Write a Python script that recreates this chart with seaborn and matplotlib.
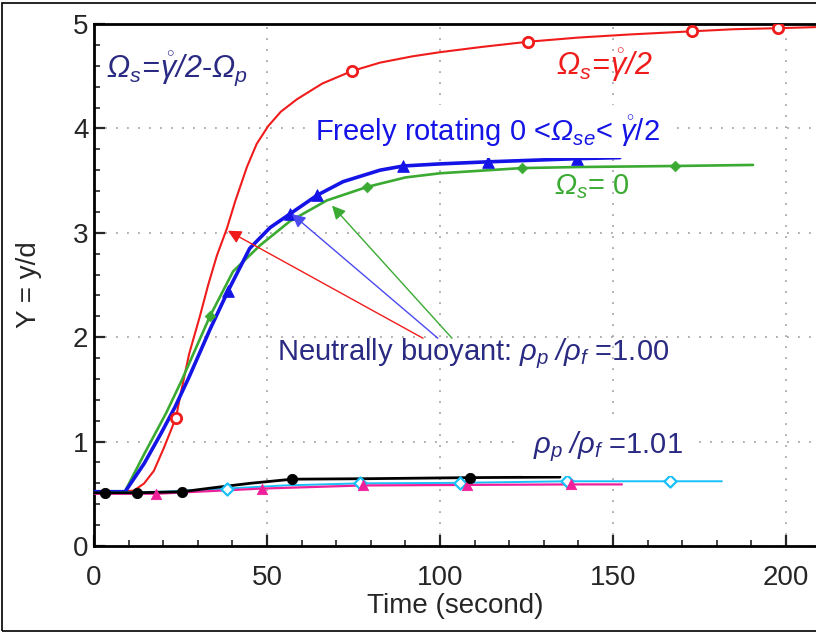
import numpy as np
import pandas as pd
import seaborn as sns
import matplotlib
matplotlib.use("Agg")
import matplotlib.pyplot as plt
from matplotlib.patches import Rectangle
from matplotlib.ticker import MultipleLocator

# ---- trajectories: time (s) vs. Y = y/d ----
# neutrally buoyant, Omega_s = gamma/2
red_t = [0, 6, 11.5, 14.5, 17.3, 20.2, 23.7, 25.0, 27.5, 30.6, 33.0, 35.5, 38.4, 40.8,
         44.2, 47.0, 50.3, 54.0, 58.7, 66.0, 74.6, 82.7, 92.0, 100.0, 112.0, 125.4,
         140.0, 155.0, 172.8, 185.0, 197.7, 208.5]
red_y = [0.52, 0.52, 0.53, 0.60, 0.72, 0.94, 1.23, 1.45, 1.84, 2.20, 2.50, 2.78, 3.04, 3.30,
         3.63, 3.85, 4.02, 4.16, 4.28, 4.43, 4.55, 4.63, 4.69, 4.73, 4.78, 4.83,
         4.87, 4.90, 4.93, 4.95, 4.96, 4.97]
red_mk_t = [23.7, 74.6, 125.4, 172.8, 197.7]
red_mk_y = [1.23, 4.55, 4.83, 4.93, 4.96]

# neutrally buoyant, freely rotating
blue_t = [0, 9.0, 14.5, 19.4, 23.4, 27.5, 33.6, 38.7, 45.0, 50.9, 56.6, 64.5, 72.0,
          82.7, 89.4, 100.0, 114.0, 139.6, 152.0]
blue_y = [0.52, 0.52, 0.79, 1.08, 1.33, 1.62, 2.08, 2.44, 2.85, 3.05, 3.18, 3.36, 3.49,
          3.60, 3.64, 3.66, 3.68, 3.71, 3.72]
blue_mk_t = [38.7, 56.6, 64.5, 89.4, 114.0, 139.6]
blue_mk_y = [2.44, 3.18, 3.36, 3.64, 3.68, 3.71]

# neutrally buoyant, Omega_s = 0
green_t = [0, 8.9, 14.5, 20.8, 25.4, 33.5, 40.2, 48.0, 56.6, 67.3, 79.0, 90.0, 100.0,
           123.7, 140.0, 168.0, 190.5]
green_y = [0.52, 0.52, 0.88, 1.27, 1.59, 2.20, 2.63, 2.88, 3.11, 3.31, 3.44, 3.53, 3.57,
           3.62, 3.63, 3.64, 3.65]
green_mk_t = [33.5, 79.0, 123.7, 168.0]
green_mk_y = [2.20, 3.44, 3.62, 3.64]

# rho_p / rho_f = 1.01
black_t = [0, 3.2, 12.4, 25.5, 35.0, 45.0, 57.3, 80.0, 108.7, 134.7]
black_y = [0.51, 0.51, 0.51, 0.52, 0.56, 0.60, 0.64, 0.645, 0.655, 0.66]
black_mk_t = [3.2, 12.4, 25.5, 57.3, 108.7]
black_mk_y = [0.51, 0.51, 0.52, 0.64, 0.655]

magenta_t = [0, 18.0, 30.0, 48.5, 77.8, 107.8, 138.0, 152.6]
magenta_y = [0.50, 0.50, 0.52, 0.55, 0.58, 0.585, 0.59, 0.59]
magenta_mk_t = [18.0, 48.5, 77.8, 107.8, 138.0]
magenta_mk_y = [0.50, 0.55, 0.58, 0.585, 0.59]

cyan_t = [0, 20.0, 38.4, 55.0, 76.9, 105.8, 136.7, 166.5, 181.5]
cyan_y = [0.51, 0.52, 0.55, 0.58, 0.60, 0.605, 0.62, 0.62, 0.62]
cyan_mk_t = [38.4, 76.9, 105.8, 136.7, 166.5]
cyan_mk_y = [0.55, 0.60, 0.605, 0.62, 0.62]

x_ticks = [0, 50, 100, 150, 200]
y_ticks = [0, 1, 2, 3, 4, 5]

# ---- style ----
sns.set_theme(style="ticks")
plt.rcParams["font.family"] = ["Liberation Sans", "DejaVu Sans"]
plt.rcParams["mathtext.fontset"] = "custom"
plt.rcParams["mathtext.rm"] = "Liberation Sans:italic"
plt.rcParams["mathtext.it"] = "Liberation Sans:italic"
plt.rcParams["mathtext.sf"] = "Liberation Sans"

RED = "#f01c1c"
BLUE = "#1414e6"
GREEN = "#3aaa32"
MAGENTA = "#f0209a"
CYAN = "#18c0f8"
NAVY = "#2a2a82"

fig = plt.figure(figsize=(8.16, 6.33), dpi=100)
ax = fig.add_axes([94 / 816, 1 - 546 / 633, 722 / 816, 522 / 633])

# lines
curves = [
    (red_t, red_y, RED, 1.5),
    (green_t, green_y, GREEN, 1.9),
    (blue_t, blue_y, BLUE, 2.6),
    (cyan_t, cyan_y, CYAN, 1.4),
    (magenta_t, magenta_y, MAGENTA, 1.6),
    (black_t, black_y, "black", 2.0),
]
for t, y, c, lw in curves:
    sns.lineplot(x=t, y=y, ax=ax, color=c, lw=lw, sort=False, estimator=None, zorder=3)

# markers
sns.scatterplot(x=red_mk_t, y=red_mk_y, ax=ax, marker="o", s=55, facecolor="white",
                edgecolor=RED, linewidth=2.0, zorder=4)
sns.scatterplot(x=green_mk_t, y=green_mk_y, ax=ax, marker="D", s=30, color=GREEN,
                edgecolor=GREEN, zorder=4)
sns.scatterplot(x=blue_mk_t, y=blue_mk_y, ax=ax, marker="^", s=70, color=BLUE,
                edgecolor=BLUE, zorder=4)
sns.scatterplot(x=cyan_mk_t, y=cyan_mk_y, ax=ax, marker="D", s=38, facecolor="white",
                edgecolor=CYAN, linewidth=1.6, zorder=4)
sns.scatterplot(x=magenta_mk_t, y=magenta_mk_y, ax=ax, marker="^", s=55, color=MAGENTA,
                edgecolor=MAGENTA, zorder=4)
sns.scatterplot(x=black_mk_t, y=black_mk_y, ax=ax, marker="o", s=55, color="black",
                edgecolor="black", zorder=5)

# axes
ax.set_xlim(0, 208.7)
ax.set_ylim(0, 5)
ax.set_xticks(x_ticks)
ax.set_yticks(y_ticks)
ax.xaxis.set_minor_locator(MultipleLocator(10))
ax.yaxis.set_minor_locator(MultipleLocator(0.2))
ax.tick_params(which="major", direction="in", length=8, width=1.6, labelsize=20,
               top=False, right=False)
ax.tick_params(axis="x", which="major", pad=14)
ax.tick_params(axis="y", which="major", pad=4)
ax.tick_params(which="minor", direction="in", length=4, width=1.2, top=False, right=False)
ax.grid(True, which="major", color="#9a9a9a", linestyle=(0, (1.2, 6)), linewidth=1.1)
for side in ("left", "bottom", "top"):
    ax.spines[side].set_linewidth(2.0)
    ax.spines[side].set_color("black")
ax.spines["right"].set_visible(False)
ax.set_xlabel("Time (second)", fontsize=20, labelpad=1)
ax.set_ylabel("Y = y/d", fontsize=20, labelpad=22)

# annotations
ax.text(3.5, 4.57, r"$\Omega_s\!=\!\mathring{\gamma}/2$-$\Omega_p$", color=NAVY,
        fontsize=22, va="center", ha="left", zorder=6)
ax.text(133.5, 4.60, r"$\Omega_s\!=\!\mathring{\gamma}/2$", color=RED,
        fontsize=22, va="center", ha="left", zorder=6)
ax.text(64.0, 3.97, r"Freely rotating 0 <$\Omega_{se}$< $\mathring{\gamma}$/2", color=BLUE,
        fontsize=21, va="center", ha="left", zorder=6,
        bbox=dict(boxstyle="square,pad=0.3", fc="white", ec="none"))
ax.text(133.0, 3.44, r"$\Omega_s$= 0", color=GREEN, fontsize=21, va="center",
        ha="left", zorder=6)
ax.text(52.8, 1.84, r"Neutrally buoyant: $\rho_p\;/\rho_f$ =1.00", color=NAVY,
        fontsize=21, va="center", ha="left", zorder=6)
ax.text(127.0, 0.95, r"$\rho_p\;/\rho_f$ =1.01", color=NAVY, fontsize=21, va="center",
        ha="left", zorder=6,
        bbox=dict(boxstyle="square,pad=0.4", fc="white", ec="none"))

arrows = [
    ((38.7, 3.02), (95.1, 1.99), RED),
    ((57.2, 3.18), (99.4, 1.99), "#4a4af0"),
    ((68.8, 3.26), (103.5, 1.99), GREEN),
]
for tip, tail, c in arrows:
    ax.annotate("", xy=tip, xytext=tail, zorder=6,
                arrowprops=dict(arrowstyle="-|>", color=c, lw=1.0, mutation_scale=20,
                                shrinkA=0, shrinkB=0))

# frame around the whole figure
fig.patches.append(Rectangle((0.003, 0.003), 1.2, 0.993, transform=fig.transFigure,
                             fill=False, lw=1.2, ec="black"))

fig.savefig("out.png", dpi=100)
